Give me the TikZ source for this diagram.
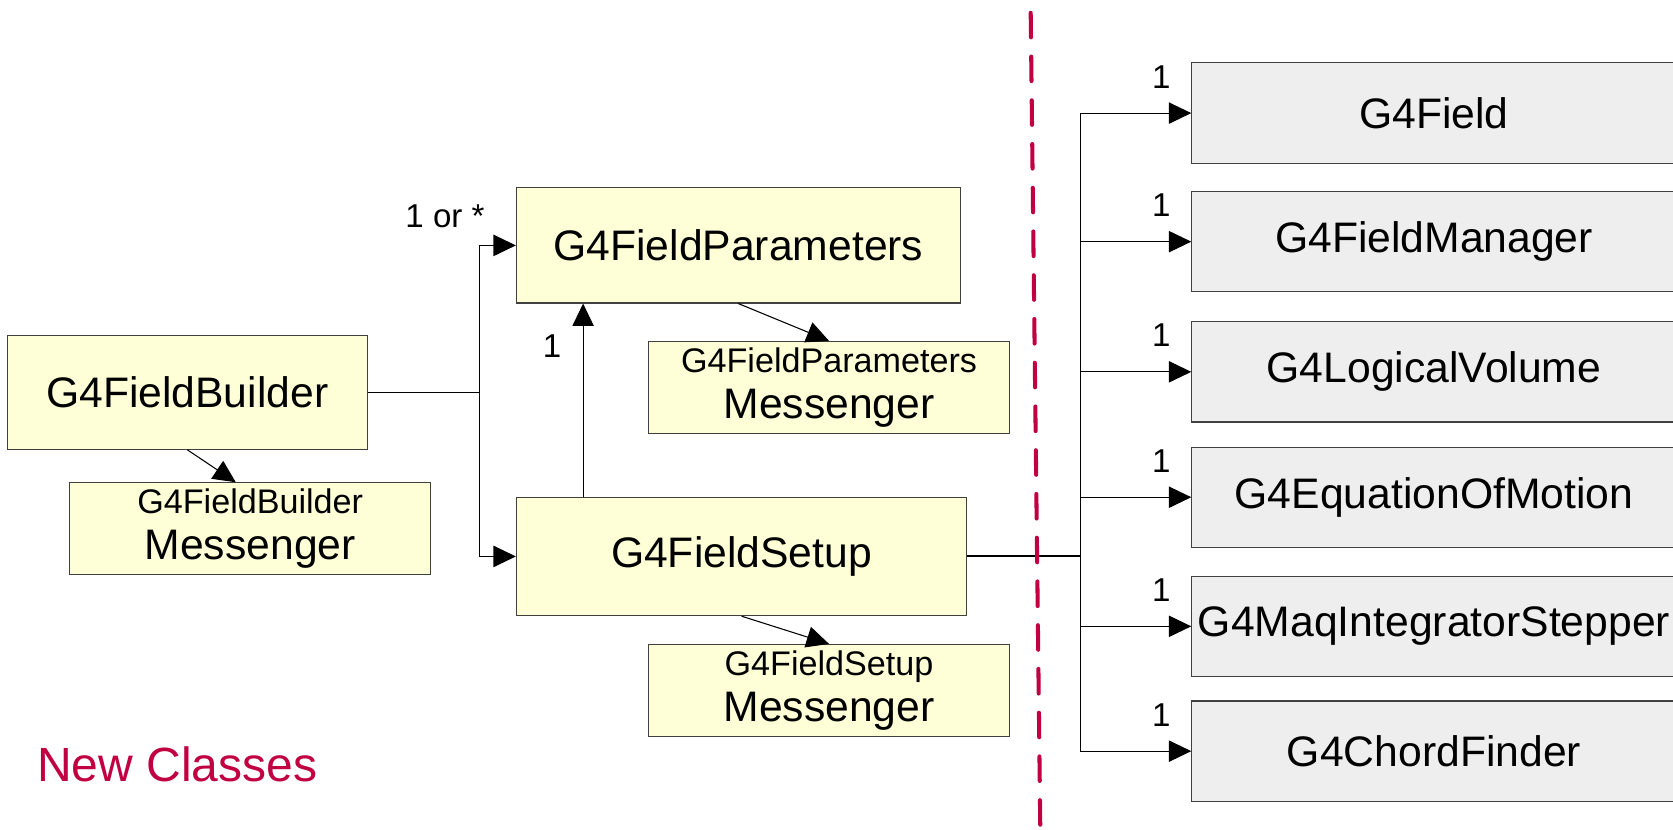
\documentclass[tikz,border=0pt]{standalone}
\usepackage{fontspec}
\setmainfont{Liberation Sans}
\usetikzlibrary{arrows.meta, positioning}

\definecolor{newred}{RGB}{192,0,64}
\definecolor{clsyellow}{RGB}{255,255,215}
\definecolor{extgray}{RGB}{238,238,238}

\begin{document}
\begin{tikzpicture}[x=0.5pt, y=-0.5pt,
  cls/.style={rectangle, draw=black!75, fill=clsyellow, line width=0.5pt,
              inner sep=0pt, font=\fontsize{20}{24}\selectfont},
  msg/.style={cls, minimum width=169pt, minimum height=43pt, align=center,
              font=\fontsize{20}{21.5}\selectfont},
  ext/.style={cls, fill=extgray, minimum width=227pt, minimum height=47pt},
  arrow/.style={-{Triangle[length=10.5pt, width=10pt]}, line width=0.5pt},
  link/.style={line width=0.5pt},
  mult/.style={inner sep=0pt, font=\fontsize{15.5}{18}\selectfont}
]
\useasboundingbox (0,0) rectangle (1568,777);

% New classes
\node[cls, minimum width=168.5pt, minimum height=53.5pt] (builder) at (175.5,367.5) {G4FieldBuilder};
\node[msg] (buildermsg) at (234.5,495.5) {{\fontsize{16}{19}\selectfont G4FieldBuilder}\\Messenger};
\node[cls, minimum width=208pt, minimum height=54pt] (params) at (692,230) {G4FieldParameters};
\node[msg] (paramsmsg) at (777,363) {{\fontsize{16}{19}\selectfont G4FieldParameters}\\Messenger};
\node[cls, minimum width=211pt, minimum height=55.5pt] (setup) at (695,521.5) {G4FieldSetup};
\node[msg] (setupmsg) at (777,647) {{\fontsize{16}{19}\selectfont G4FieldSetup}\\Messenger};

% Existing Geant4 classes
\node[ext] (field) at (1344,106) {G4Field};
\node[ext] (manager) at (1344,226.5) {G4FieldManager};
\node[ext] (volume) at (1344,348.5) {G4LogicalVolume};
\node[ext] (equation) at (1344,466) {G4EquationOfMotion};
\node[ext] (stepper) at (1344,587) {G4MaqIntegratorStepper};
\node[ext] (chord) at (1344,704) {G4ChordFinder};

% Builder associations
\draw[link] (builder.east) -- ++(52.5pt,0) coordinate (bsplit);
\draw[arrow] (bsplit) |- (params.west);
\draw[arrow] (bsplit) |- (setup.west);
\node[mult, anchor=south east] (multor) at ([xshift=-14.5pt, yshift=8pt]params.west) {1 or *};

\draw[arrow] ([xshift=31.5pt]setup.north west) -- ([xshift=31.5pt]params.south west);
\node[mult, anchor=north east] (multparams) at ([xshift=21.5pt, yshift=-14.5pt]params.south west) {1};

% Messengers
\draw[arrow] (builder.south) -- ([xshift=78pt]buildermsg.north west);
\draw[arrow] (params.south) -- (paramsmsg.north);
\draw[arrow] (setup.south) -- (setupmsg.north);

% Setup associations
\draw[link, line width=1pt] (setup.east) -- ++(53pt,0) coordinate (ssplit);
\draw[arrow] (ssplit) |- (field.west);
\draw[arrow] (ssplit) |- (manager.west);
\draw[arrow] (ssplit) |- (volume.west);
\draw[arrow] (ssplit) |- (equation.west);
\draw[arrow] (ssplit) |- (stepper.west);
\draw[arrow] (ssplit) |- (chord.west);

\node[mult, anchor=south east] (mfield) at ([xshift=-9.5pt, yshift=11.5pt]field.west) {1};
\node[mult, anchor=south east] (mmanager) at ([xshift=-9.5pt, yshift=11.5pt]manager.west) {1};
\node[mult, anchor=south east] (mvolume) at ([xshift=-9.5pt, yshift=11.5pt]volume.west) {1};
\node[mult, anchor=south east] (mequation) at ([xshift=-9.5pt, yshift=11.5pt]equation.west) {1};
\node[mult, anchor=south east] (mstepper) at ([xshift=-9.5pt, yshift=11.5pt]stepper.west) {1};
\node[mult, anchor=south east] (mchord) at ([xshift=-9.5pt, yshift=11.5pt]chord.west) {1};

% Divider and legend
\coordinate (divtop) at (966,12);
\coordinate (divbot) at (975,777);
\draw[newred, line width=1.9pt, line cap=round, dash pattern=on 11.5pt off 9pt] (divtop) -- (divbot);
\node[text=newred, font=\fontsize{22.5}{27}\selectfont] (legend) at (166,716) {New Classes};

\end{tikzpicture}
\end{document}
